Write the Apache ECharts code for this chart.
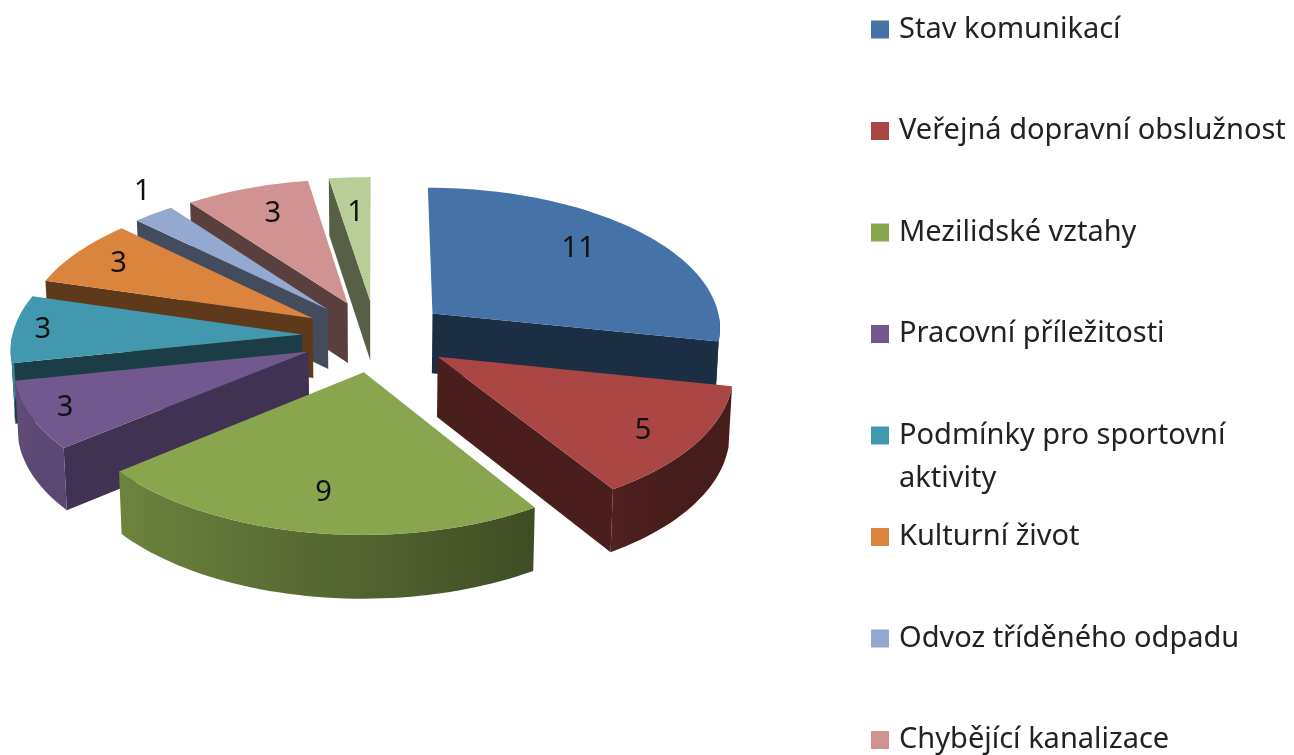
<!DOCTYPE html>
<html>

<head>
    <meta charset="utf-8">
    <script src="https://cdn.jsdelivr.net/npm/echarts@6/dist/echarts.min.js"></script>
    <style>
        html, body { margin: 0; height: 100%; background: #fff; }
        #container { width: 1294px; height: 755px; }
    </style>
</head>

<body>
    <div id="container"></div>
    <script type="text/javascript">
        // data
        var categories = ['Stav komunikací', 'Veřejná dopravní obslužnost', 'Mezilidské vztahy', 'Pracovní příležitosti',
            'Podmínky pro sportovní aktivity', 'Kulturní život', 'Odvoz tříděného odpadu', 'Chybějící kanalizace', 'Další'];
        var values = [11, 5, 9, 3, 3, 3, 1, 3, 1];

        // the last slice's legend entry is cut off in the picture
        var legendCount = 8;

        var colors = ['#4572A7', '#AA4643', '#89A54E', '#71588F', '#4198AF', '#DB843D', '#93A9CF', '#D19392', '#B9CD96'];
        var wallShade = [0.4, 0.43, 0.44, 0.57, 0.4, 0.43, 0.45, 0.43, 0.47];
        var labelRadius = [0.73, 0.82, 0.77, 0.88, 0.9, 0.82, 1.18, 0.76, 0.7];
        var labelTurn = [-3, 2, 0, 0, 0, 0, 4, 1, 0];

        // fake 3d pie: flat disc seen through a small perspective
        var centerX = 376, centerY = 336;
        var radiusX = 290, radiusY = 141;
        var perspective = 0.09;
        var explode = 0.255;
        var wallHeight = 60;
        var fontName = '"Noto Sans", sans-serif';
        var fontSize = 29;

        var total = values.reduce(function (a, b) { return a + b; }, 0);

        function shade(hex, f) {
            var n = parseInt(hex.slice(1), 16);
            var r = Math.round((n >> 16 & 255) * f);
            var g = Math.round((n >> 8 & 255) * f);
            var b = Math.round((n & 255) * f);
            return 'rgb(' + r + ',' + g + ',' + b + ')';
        }

        function project(x, y) {
            var s = 1 / (1 + perspective * y);
            return { x: centerX + radiusX * x * s, y: centerY - radiusY * y * s, s: s };
        }

        function sliceAngles(index) {
            var before = 0;
            for (var i = 0; i < index; i++) {
                before += values[i];
            }
            var a0 = before / total * Math.PI * 2;
            var a1 = (before + values[index]) / total * Math.PI * 2;
            return { start: a0, end: a1, mid: (a0 + a1) / 2 };
        }

        function arcPoint(ang, index, r) {
            var a = sliceAngles(index);
            return project(explode * Math.sin(a.mid) + r * Math.sin(ang), explode * Math.cos(a.mid) + r * Math.cos(ang));
        }

        function top2d(p) { return [p.x, p.y]; }
        // the bottom rim sits a little closer to the middle than the top one
        function bottom2d(p) {
            return [centerX + (p.x - centerX) * 0.99, p.y + wallHeight * (1 + (p.s - 1) * 0.5)];
        }

        function arcShade(ang) {
            return Math.max(0.42, 0.6 - 0.25 * Math.sin(ang));
        }

        function sampleArc(from, to, index) {
            var pts = [];
            var steps = Math.max(4, Math.ceil((to - from) / 0.03));
            for (var i = 0; i <= steps; i++) {
                var ang = from + (to - from) * i / steps;
                var p = arcPoint(ang, index, 1);
                p.ang = ang;
                pts.push(p);
            }
            return pts;
        }

        function renderSlice(index) {
            return function (params, api) {
                var a = sliceAngles(index);
                var color = colors[index];
                var apex = arcPoint(0, index, 0);
                var arc = sampleArc(a.start, a.end, index);
                var wallColor = shade(color, wallShade[index]);
                var children = [];

                function radialWall(p) {
                    return {
                        type: 'polygon',
                        shape: { points: [top2d(apex), top2d(p), bottom2d(p), bottom2d(apex)] },
                        style: { fill: wallColor }
                    };
                }

                // only walls that face the viewer
                if (Math.sin(a.start) < -0.01) {
                    children.push(radialWall(arc[0]));
                }
                if (Math.sin(a.end) > 0.01) {
                    children.push(radialWall(arc[arc.length - 1]));
                }

                var wallFrom = Math.max(a.start, Math.PI / 2);
                var wallTo = Math.min(a.end, Math.PI * 1.5);
                if (wallTo > wallFrom) {
                    var rim = sampleArc(wallFrom, wallTo, index);
                    var wallPoints = rim.map(top2d).concat(rim.slice().reverse().map(bottom2d));
                    // lit from the left: stops follow the screen x of the outer edge
                    var left = Math.min.apply(null, rim.map(function (p) { return p.x; }));
                    var right = Math.max.apply(null, rim.map(function (p) { return p.x; }));
                    var stops = [];
                    for (var k = 0; k <= 8; k++) {
                        var q = rim[Math.round(k / 8 * (rim.length - 1))];
                        stops.push({ offset: (q.x - left) / (right - left), color: shade(color, arcShade(q.ang)) });
                    }
                    stops.sort(function (m, n) { return m.offset - n.offset; });
                    children.push({
                        type: 'polygon',
                        shape: { points: wallPoints },
                        style: { fill: new echarts.graphic.LinearGradient(0, 0, 1, 0, stops) }
                    });
                }

                var top = arc.map(top2d);
                top.unshift(top2d(apex));
                children.push({ type: 'polygon', shape: { points: top }, style: { fill: color } });

                var lab = arcPoint(a.mid + labelTurn[index] * Math.PI / 180, index, labelRadius[index]);
                children.push({
                    type: 'text',
                    x: lab.x,
                    y: lab.y,
                    style: {
                        text: String(api.value(0)),
                        fill: '#111',
                        font: fontSize + 'px ' + fontName,
                        align: 'center',
                        verticalAlign: 'middle'
                    }
                });

                return { type: 'group', children: children };
            };
        }

        var series = categories.map(function (name, i) {
            var a = sliceAngles(i);
            return {
                name: name,
                type: 'custom',
                coordinateSystem: 'none',
                // painter's order: far slices first
                z: Math.round(100 - Math.cos(a.mid) * 50),
                color: colors[i],
                silent: true,
                renderItem: renderSlice(i),
                data: [[values[i]]]
            };
        });

        var legends = categories.slice(0, legendCount).map(function (name, i) {
            return {
                left: 871,
                top: 29.5 + 101.5 * i - fontSize / 2,
                padding: 0,
                icon: 'rect',
                itemWidth: 18,
                itemHeight: 18,
                selectedMode: false,
                data: [name],
                formatter: function (n) {
                    return n.replace(' aktivity', '');
                },
                textStyle: { fontFamily: fontName, fontSize: fontSize, color: '#222', padding: [0, 0, 0, 5] }
            };
        });

        var dom = document.getElementById('container');
        var myChart = echarts.init(dom);
        myChart.setOption({
            backgroundColor: '#fff',
            animation: false,
            legend: legends,
            graphic: [{
                type: 'text',
                left: 899,
                top: 464,
                style: { text: 'aktivity', font: fontSize + 'px ' + fontName, fill: '#222' }
            }],
            series: series
        });
    </script>
</body>

</html>
